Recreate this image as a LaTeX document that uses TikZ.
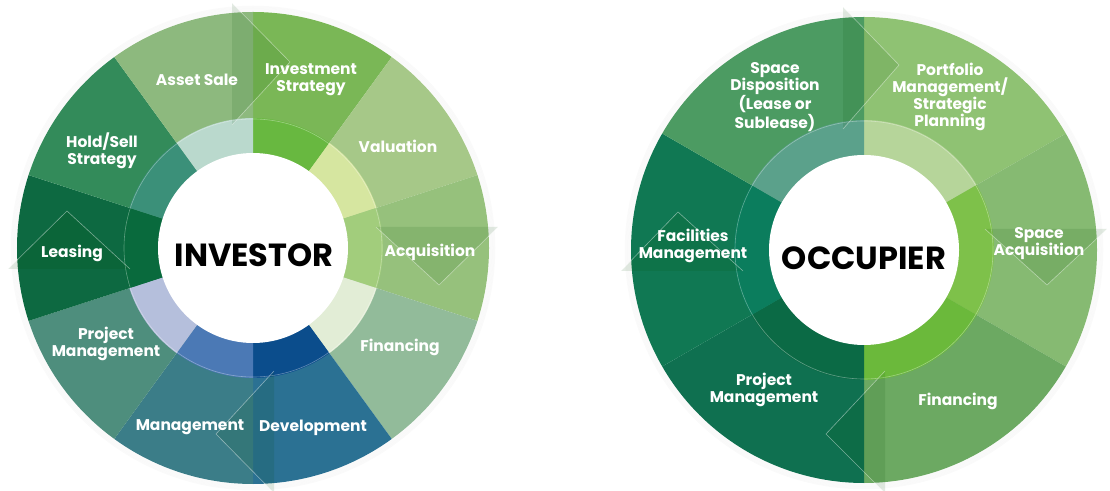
\documentclass[tikz,border=0pt]{standalone}
\usepackage{fontspec}
\setmainfont{Poppins}
% left wheel outer
\definecolor{lIS}{HTML}{7AB756}
\definecolor{lVal}{HTML}{A6C888}
\definecolor{lAcq}{HTML}{96C17C}
\definecolor{lFin}{HTML}{92BB9A}
\definecolor{lDev}{HTML}{2B7193}
\definecolor{lMan}{HTML}{3B7D88}
\definecolor{lPM}{HTML}{4E8E7D}
\definecolor{lLea}{HTML}{0D6941}
\definecolor{lHS}{HTML}{338B5A}
\definecolor{lAS}{HTML}{8DB97E}
% left wheel ring
\definecolor{iIS}{HTML}{68B840}
\definecolor{iVal}{HTML}{D6E6A0}
\definecolor{iAcq}{HTML}{A2CD7C}
\definecolor{iFin}{HTML}{E2EDD6}
\definecolor{iDev}{HTML}{0B4D8C}
\definecolor{iMan}{HTML}{4B79B5}
\definecolor{iPM}{HTML}{B5BFDC}
\definecolor{iLea}{HTML}{096A3D}
\definecolor{iHS}{HTML}{3B9079}
\definecolor{iAS}{HTML}{BAD9CD}
% right wheel outer
\definecolor{rPort}{HTML}{8FC273}
\definecolor{rSA}{HTML}{86BA72}
\definecolor{rFin}{HTML}{6CA962}
\definecolor{rPM}{HTML}{0F7050}
\definecolor{rFM}{HTML}{107853}
\definecolor{rSD}{HTML}{4C9B62}
% right wheel ring
\definecolor{jPort}{HTML}{B6D59A}
\definecolor{jSA}{HTML}{7EC14A}
\definecolor{jFin}{HTML}{6BB93B}
\definecolor{jPM}{HTML}{0B6A45}
\definecolor{jFM}{HTML}{0B7D5D}
\definecolor{jSD}{HTML}{5BA18B}
\begin{document}
\begin{tikzpicture}[x=1pt,y=1pt,
  lbl/.style={text=white,font=\bfseries\fontsize{15.5}{17}\selectfont,align=center,inner sep=0pt},
  hub/.style={font=\bfseries\fontsize{32}{36}\selectfont,text=black,inner sep=0pt},
  arrowhd/.style={fill=black!70!green,fill opacity=0.11,draw=white,draw opacity=0.45,line width=0.6pt},
  ringline/.style={draw=white,draw opacity=0.35,line width=0.6pt},
  glow/.style={draw=black,draw opacity=0.02,line width=1.5pt}]
\useasboundingbox (0,0) rectangle (1110,490);
\fill[white] (0,0) rectangle (1110,490);

% ---------------- LEFT WHEEL ----------------
\coordinate (L) at (253,242);
\foreach \r in {237,238.5,240,241.5}{\draw[glow] (L) circle[radius=\r pt];}
\foreach \a/\b/\c in {90/54/lIS,54/18/lVal,18/-18/lAcq,-18/-54/lFin,-54/-90/lDev,-90/-126/lMan,-126/-162/lPM,-162/-198/lLea,-198/-234/lHS,-234/-270/lAS}
  \fill[\c,shift={(L)}] (0,0) -- (\a:236pt) arc[start angle=\a,end angle=\b,radius=236pt] -- cycle;
\foreach \a/\b/\c in {90/54/iIS,54/18/iVal,18/-18/iAcq,-18/-54/iFin,-54/-90/iDev,-90/-126/iMan,-126/-162/iPM,-162/-198/iLea,-198/-234/iHS,-234/-270/iAS}
  \fill[\c,shift={(L)}] (0,0) -- (\a:130pt) arc[start angle=\a,end angle=\b,radius=130pt] -- cycle;
\draw[ringline] (L) circle[radius=129pt];
\filldraw[arrowhd,shift={(L)}] (-21,245) -- (37,186) -- (-21,123);
\filldraw[arrowhd,shift={(L)}] (245,21) -- (186,-37) -- (123,21);
\filldraw[arrowhd,shift={(L)}] (21,-245) -- (-37,-186) -- (21,-123);
\filldraw[arrowhd,shift={(L)}] (-245,-21) -- (-186,37) -- (-123,-21);
\fill[white] (L) circle[radius=95pt];
\node[hub] (inv) at (254,235) {INVESTOR};
\node[lbl] (as) at (197,410) {Asset Sale};
\node[lbl] (is) at (311,410) {Investment\\Strategy};
\node[lbl] (val) at (398,344) {Valuation};
\node[lbl] (acq) at (430,238) {Acquisition};
\node[lbl] (fin) at (400,143) {Financing};
\node[lbl] (dev) at (313,62) {Development};
\node[lbl] (man) at (190,63) {Management};
\node[lbl] (pm) at (106,146) {Project\\Management};
\node[lbl] (lea) at (72,237) {Leasing};
\node[lbl] (hs) at (102,339) {Hold/Sell\\Strategy};

% ---------------- RIGHT WHEEL ----------------
\coordinate (R) at (864,240);
\foreach \r in {234,235.5,237,238.5}{\draw[glow] (R) circle[radius=\r pt];}
\foreach \a/\b/\c in {90/30/rPort,30/-30/rSA,-30/-90/rFin,-90/-150/rPM,-150/-210/rFM,-210/-270/rSD}
  \fill[\c,shift={(R)}] (0,0) -- (\a:233pt) arc[start angle=\a,end angle=\b,radius=233pt] -- cycle;
\foreach \a/\b/\c in {90/30/jPort,30/-30/jSA,-30/-90/jFin,-90/-150/jPM,-150/-210/jFM,-210/-270/jSD}
  \fill[\c,shift={(R)}] (0,0) -- (\a:130pt) arc[start angle=\a,end angle=\b,radius=130pt] -- cycle;
\draw[ringline] (R) circle[radius=129pt];
\filldraw[arrowhd,shift={(R)}] (-21,243) -- (35,185) -- (-21,121);
\filldraw[arrowhd,shift={(R)}] (243,21) -- (183,-35) -- (121,21);
\filldraw[arrowhd,shift={(R)}] (21,-243) -- (-38,-184) -- (21,-121);
\filldraw[arrowhd,shift={(R)}] (-243,-21) -- (-186,38) -- (-121,-21);
\fill[white] (R) circle[radius=95pt];
\node[hub] (occ) at (864,232) {OCCUPIER};
\node[lbl] (sd) at (775,393) {Space\\Disposition\\(Lease or\\Sublease)};
\node[lbl] (pf) at (950,393) {Portfolio\\Management/\\Strategic\\Planning};
\node[lbl] (sa) at (1039,246) {Space\\Acquisition};
\node[lbl] (rfin) at (958,89) {Financing};
\node[lbl] (rpm) at (764,100) {Project\\Management};
\node[lbl] (fm) at (693,244) {Facilities\\Management};
\end{tikzpicture}
\end{document}
